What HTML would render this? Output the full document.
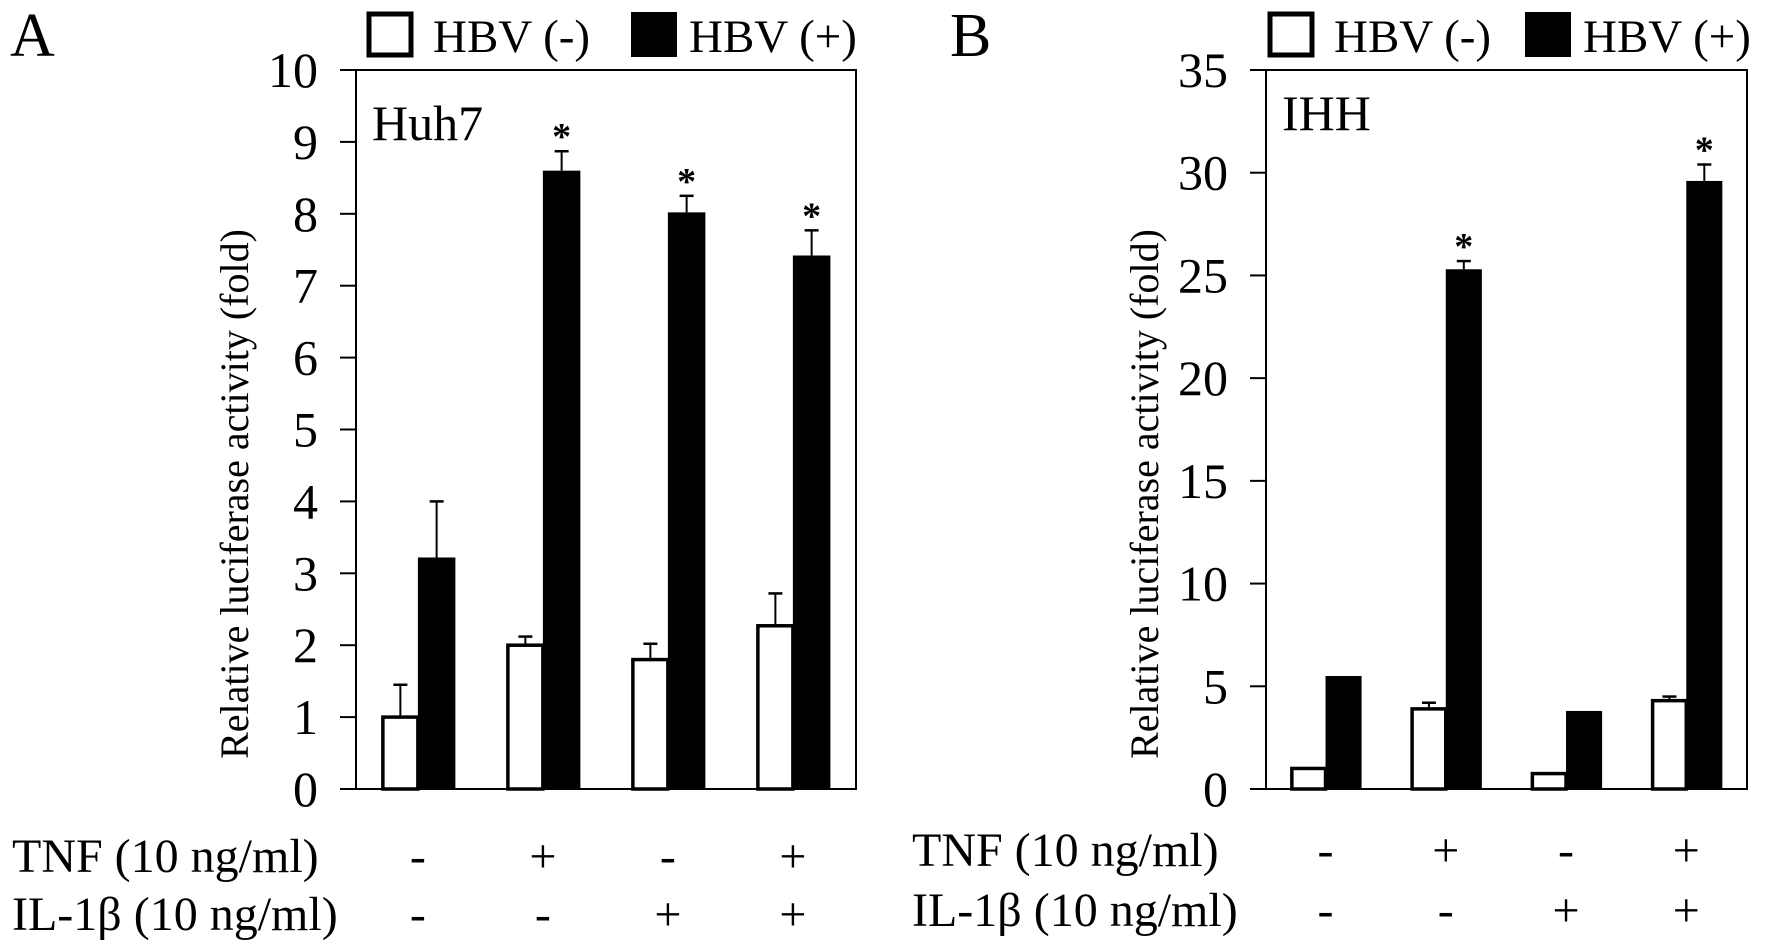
<!DOCTYPE html>
<html><head><meta charset="utf-8"><style>
html,body{margin:0;padding:0;background:#fff;}
svg{display:block;font-family:"Liberation Serif",serif;}
</style></head><body>
<svg id="fig" width="1772" height="951" viewBox="0 0 1772 951" xmlns="http://www.w3.org/2000/svg"></svg>
<script>
const conditions = ["ctrl","TNF","IL-1b","TNF+IL-1b"];
const tnfSigns = ["-","+","-","+"];
const ilSigns = ["-","-","+","+"];
const huh7Neg = [1.0, 2.0, 1.8, 2.27];
const huh7NegErr = [0.45, 0.12, 0.22, 0.45];
const huh7Pos = [3.22, 8.6, 8.02, 7.42];
const huh7PosErr = [0.78, 0.27, 0.23, 0.35];
const huh7Star = [false, true, true, true];
const huh7Ticks = [0,1,2,3,4,5,6,7,8,9,10];
const ihhNeg = [1.0, 3.9, 0.75, 4.3];
const ihhNegErr = [0, 0.3, 0, 0.2];
const ihhPos = [5.5, 25.3, 3.8, 29.6];
const ihhPosErr = [0, 0.4, 0, 0.8];
const ihhStar = [false, true, false, true];
const ihhTicks = [0,5,10,15,20,25,30,35];

const svg = document.getElementById('fig');
const NS = "http://www.w3.org/2000/svg";
function mk(tag, attrs, text){
  const e = document.createElementNS(NS, tag);
  for (const k in attrs) e.setAttribute(k, attrs[k]);
  if (text !== undefined) e.textContent = text;
  svg.appendChild(e);
  return e;
}

function panel(p){
  const x0=p.left, x1=p.right, yTop=70, yBot=789;
  const y = v => yBot - (v/p.max)*(yBot-yTop);
  const gw = (x1-x0)/conditions.length;
  let e = mk('rect',{x:x0,y:yTop,width:x1-x0,height:yBot-yTop,fill:'none',stroke:'#000','stroke-width':2});
  
  
  p.ticks.forEach(t=>{
    let l = mk('line',{x1:x0-16,x2:x0,y1:y(t),y2:y(t),stroke:'#000','stroke-width':2});
    
    
    let tx = mk('text',{x:x0-38,y:y(t)+17,'font-size':50,'text-anchor':'end'}, String(t));
    
    
  });
  conditions.forEach((c,i)=>{
    const gx = x0 + i*gw + gw*0.215;
    const wW = gw*0.28, bW = gw*0.30;
    const vn = p.neg[i];
    if (p.negErr[i]>0){
      let el = mk('line',{x1:gx+wW/2,x2:gx+wW/2,y1:y(vn),y2:y(vn+p.negErr[i]),stroke:'#000','stroke-width':2});
      
      
      let ec = mk('line',{x1:gx+wW/2-7,x2:gx+wW/2+7,y1:y(vn+p.negErr[i]),y2:y(vn+p.negErr[i]),stroke:'#000','stroke-width':2.5});
      
      
    }
    let r = mk('rect',{x:gx,y:y(vn),width:wW,height:yBot-y(vn),fill:'#fff',stroke:'#000','stroke-width':3.5});
    
    
    const bx = gx+wW;
    const vp = p.pos[i];
    if (p.posErr[i]>0){
      let el = mk('line',{x1:bx+bW/2,x2:bx+bW/2,y1:y(vp),y2:y(vp+p.posErr[i]),stroke:'#000','stroke-width':2});
      
      
      let ec = mk('line',{x1:bx+bW/2-7,x2:bx+bW/2+7,y1:y(vp+p.posErr[i]),y2:y(vp+p.posErr[i]),stroke:'#000','stroke-width':2.5});
      
      
    }
    let rb = mk('rect',{x:bx,y:y(vp),width:bW,height:yBot-y(vp),fill:'#000'});
    
    
    if (p.star[i]){
      let s = mk('text',{x:bx+bW/2,y:y(vp+p.posErr[i])-2,'font-size':38,'text-anchor':'middle','font-weight':'bold'},'*');
      
      
    }
    const cx = gx+wW;
    let t1 = mk('text',{x:cx,y:p.row1,'font-size':48,'text-anchor':'middle'},tnfSigns[i]);
    
    
    let t2 = mk('text',{x:cx,y:p.row2,'font-size':48,'text-anchor':'middle'},ilSigns[i]);
    
    
  });
  let pl = mk('text',{x:p.letterX,y:56,'font-size':62},p.letter);
  
  
  let cl = mk('text',{x:x0+16,y:p.cellY,'font-size':50},p.cell);
  
  
  let yt = mk('text',{x:0,y:0,'font-size':40,'text-anchor':'middle',transform:'translate('+p.titleX+',494) rotate(-90)'},'Relative luciferase activity (fold)');
  
  
  let r1 = mk('text',{x:p.rowLabelX,y:p.row1,'font-size':48},'TNF (10 ng/ml)');
  
  
  let r2 = mk('text',{x:p.rowLabelX,y:p.row2,'font-size':48},'IL-1\u03b2 (10 ng/ml)');
  
  
  let lb1 = mk('rect',{x:p.legX,y:14,width:42,height:41,fill:'#fff',stroke:'#000','stroke-width':5});
  
  
  let lt1 = mk('text',{x:p.legX+64,y:52,'font-size':47},'HBV (-)');
  
  
  let lb2 = mk('rect',{x:p.legX2,y:12,width:46,height:45,fill:'#000'});
  
  
  let lt2 = mk('text',{x:p.legX2+58,y:52,'font-size':47},'HBV (+)');
  
  
}

panel({id:'huh7',left:356,right:856,max:10,ticks:huh7Ticks,neg:huh7Neg,negErr:huh7NegErr,pos:huh7Pos,posErr:huh7PosErr,star:huh7Star,
  letter:'A',letterX:10,cell:'Huh7',cellY:140,titleX:248,rowLabelX:12,row1:872,row2:930,legX:369,legX2:631});
panel({id:'ihh',left:1266,right:1747,max:35,ticks:ihhTicks,neg:ihhNeg,negErr:ihhNegErr,pos:ihhPos,posErr:ihhPosErr,star:ihhStar,
  letter:'B',letterX:950,cell:'IHH',cellY:130,titleX:1158,rowLabelX:912,row1:866,row2:926,legX:1270,legX2:1525});
</script>
</body></html>
